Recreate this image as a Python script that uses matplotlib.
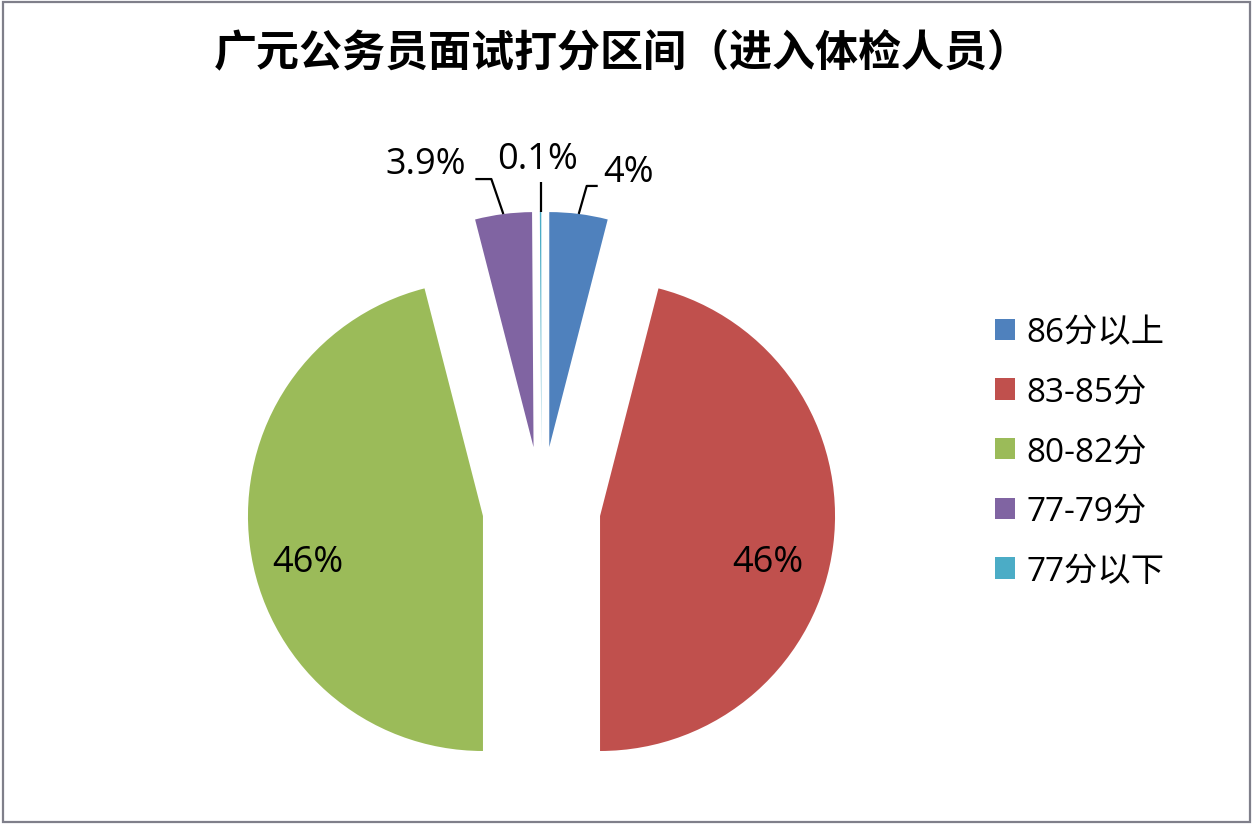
import matplotlib
matplotlib.use('Agg')
import matplotlib.pyplot as plt
import numpy as np
from matplotlib.patches import Patch, Rectangle

plt.rcParams['font.family'] = ['Noto Sans CJK SC', 'DejaVu Sans']
LATIN = ['Open Sans', 'Noto Sans CJK SC', 'DejaVu Sans']

# ---- data ----
categories = ['86分以上', '83-85分', '80-82分', '77-79分', '77分以下']
values = [4, 46, 46, 3.9, 0.1]
pct_labels = ['4%', '46%', '46%', '3.9%', '0.1%']
colors = ['#4F81BD', '#C0504D', '#9BBB59', '#8064A2', '#4BACC6']
title = '广元公务员面试打分区间（进入体检人员）'

W, H = 1254, 828
fig = plt.figure(figsize=(W / 100, H / 100), dpi=100)
fig.patch.set_facecolor('white')
ax = fig.add_axes([0, 0, 1, 1])

cx, cy, R = 541.5, 318.4, 235
explode = [62, 59, 59, 62, 62]
wedges, _ = ax.pie(values, explode=explode, colors=colors,
                   startangle=90, counterclock=False, center=(cx, cy),
                   radius=R, wedgeprops=dict(linewidth=0), frame=True)
ax.set_xlim(0, W)
ax.set_ylim(0, H)
ax.set_aspect('equal')
ax.axis('off')

# inside labels for the two big slices (offsets in units of radius)
inside = {1: (0.964, -0.227), 2: (-0.994, -0.227)}
for i, (fx, fy) in inside.items():
    ax.text(cx + fx * R, cy + fy * R, pct_labels[i], ha='center', va='center',
            fontsize=26, color='black', family=LATIN)

# outside labels with leader lines for the small slices
# (elbow offset from arc point, horizontal tail, label offset from arc point)
outside = {
    0: ((8, 28), 11, (50, 42)),
    3: ((-12, 35), -16, (-78, 50)),
    4: ((0, 30), 0, (-3, 53)),
}
for i, (elb, tail, lab) in outside.items():
    w = wedges[i]
    tm = np.deg2rad((w.theta1 + w.theta2) / 2)
    px = w.center[0] + R * np.cos(tm)
    py = w.center[1] + R * np.sin(tm)
    ex, ey = px + elb[0], py + elb[1]
    ax.plot([px, ex, ex + tail], [py, ey, ey], color='black', lw=1.6,
            solid_capstyle='butt')
    ax.text(px + lab[0], py + lab[1], pct_labels[i], ha='center', va='center',
            fontsize=26, color='black', family=LATIN)

# legend
handles = [Patch(facecolor=c, edgecolor='none') for c in colors]
fig.legend(handles, categories, loc='upper left',
           bbox_to_anchor=(995 / W, 1 - 317 / H), frameon=False,
           prop=dict(family=LATIN, size=24), handlelength=0.6,
           handleheight=0.6, handletextpad=0.35, labelspacing=0.8,
           borderpad=0, borderaxespad=0)

# title
fig.text(622 / W, 1 - 52 / H, title, ha='center', va='center',
         fontsize=31, fontweight='bold', color='black')

# outer frame
fig.patches.append(Rectangle((3 / W, 5 / H), 1247 / W, 820 / H,
                             transform=fig.transFigure, fill=False,
                             edgecolor='#7f7f8a', linewidth=1.6))

fig.savefig('out.png', dpi=100, facecolor='white')
